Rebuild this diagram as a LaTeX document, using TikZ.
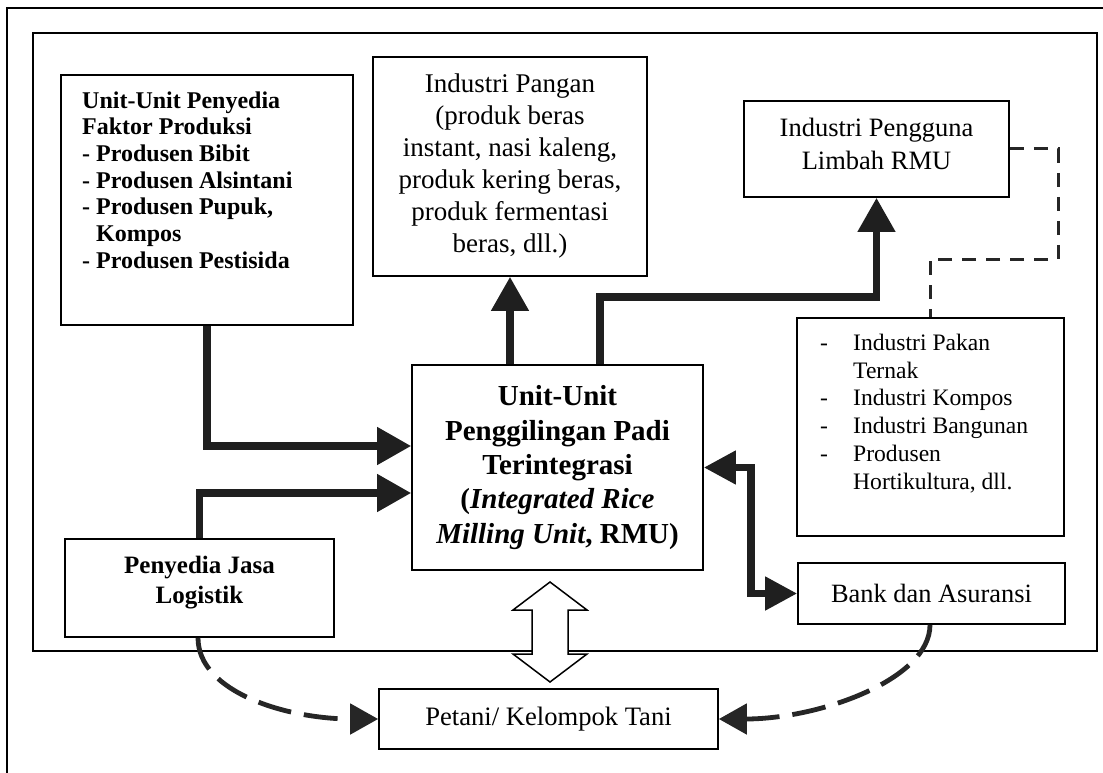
\documentclass[tikz,border=0pt]{standalone}
\usepackage{fontspec}
\setmainfont{Liberation Serif}
\usetikzlibrary{arrows.meta}
\begin{document}
\begin{tikzpicture}[x=1pt,y=-1pt]
\tikzset{
  box/.style={draw=black, line width=1.6pt, rectangle, inner sep=0pt, align=center},
  txt/.style={inner sep=0pt, align=left, anchor=west},
  ctxt/.style={inner sep=0pt, align=center},
  heavy/.style={line width=7.5pt, draw=black!88, -{Triangle[length=34pt,width=36pt]}},
  heavyboth/.style={line width=7.5pt, draw=black!88, {Triangle[length=32pt,width=32pt]}-{Triangle[length=32pt,width=32pt]}},
  curved/.style={line width=4.8pt, draw=black!85, dash pattern=on 34pt off 13pt, -{Triangle[length=28pt,width=30pt]}},
  thindash/.style={line width=3pt, draw=black!85, dash pattern=on 14pt off 10pt},
  frame/.style={line width=2pt, draw=black},
  hollow/.style={line width=1.5pt, draw=black, fill=white, line join=miter}
}
\useasboundingbox (0,0) rectangle (1103,773);
% frames
\draw[frame] (7,773) -- (7,8) -- (1103,8);
\draw[frame] (33,33) rectangle (1097,651);

% boxes
\node[box, minimum width=292pt, minimum height=250pt] (b1) at (207,200) {};
\node[txt, font=\bfseries\fontsize{24}{26.7}\selectfont] (b1t) at (82,180)
  {Unit-Unit Penyedia\\Faktor Produksi\\- Produsen Bibit\\- Produsen Alsintani\\- Produsen Pupuk,\\\hphantom{- }Kompos\\- Produsen Pestisida};

\node[box, minimum width=274pt, minimum height=219pt, font=\fontsize{27}{32}\selectfont] (b2) at (510,166.5)
  {Industri Pangan\\(produk beras\\instant, nasi kaleng,\\produk kering beras,\\produk fermentasi\\beras, dll.)};

\node[box, minimum width=265pt, minimum height=96pt] (b3) at (876.5,149) {};
\node[ctxt, font=\fontsize{26.5}{33}\selectfont] (b3t) at (876.5,144)
  {Industri Pengguna\\Limbah RMU};

\node[box, minimum width=267pt, minimum height=218pt] (b4) at (930.5,427) {};
\node[txt, font=\fontsize{23.6}{27.8}\selectfont] (b4t) at (820,413.5)
  {\makebox[33pt][l]{-}Industri Pakan\\\hspace*{33pt}Ternak\\\makebox[33pt][l]{-}Industri Kompos\\\makebox[33pt][l]{-}Industri Bangunan\\\makebox[33pt][l]{-}Produsen\\\hspace*{33pt}Hortikultura, dll.};

\node[box, minimum width=291pt, minimum height=205pt, font=\bfseries\fontsize{29}{34.3}\selectfont] (c) at (557.5,467.5)
  {Unit-Unit\\Penggilingan Padi\\Terintegrasi\\(\textit{Integrated Rice}\\\textit{Milling Unit}, RMU)};

\node[box, minimum width=269pt, minimum height=98pt] (jasa) at (199.5,588) {};
\node[ctxt, font=\bfseries\fontsize{25}{30}\selectfont] (jasat) at (199.5,583)
  {Penyedia Jasa\\Logistik};

\node[box, minimum width=267pt, minimum height=61pt, font=\fontsize{26.4}{31}\selectfont] (bank) at (931.5,593.5)
  {Bank dan Asuransi};

\node[box, minimum width=339pt, minimum height=60pt, font=\fontsize{26.6}{31}\selectfont] (pet) at (548.5,719)
  {Petani/ Kelompok Tani};

% connectors
\coordinate (bend3) at (740,297);
\coordinate (dv) at (751,530);
\coordinate (d1) at (1058,259);

\draw[heavy] (b1.south) |- ([yshift=21.5pt]c.west);
\draw[heavy] (jasa.north) |- ([yshift=-25.5pt]c.west);
\draw[heavy] (b2.south |- c.north) -- (b2.south);
\draw[heavy] ([xshift=42.5pt]c.north) |- (bend3) -| (b3.south);
\draw[heavyboth] (c.east) -| (dv) |- (bank.west);
\draw[thindash] (b3.east) -| (d1) -| (b4.north);

\draw[curved] ([xshift=-1.5pt]jasa.south) .. controls +(0,55) and +(-90,0) .. (pet.west);
\draw[curved] ([xshift=-1.5pt]bank.south) .. controls +(0,55) and +(100,0) .. (pet.east);

% hollow double arrow between RMU and Petani
\draw[hollow] (550,582) -- (587,610) -- (568,610) -- (568,654) -- (587,654) -- (550,682)
  -- (513,654) -- (532,654) -- (532,610) -- (513,610) -- cycle;
\end{tikzpicture}
\end{document}
